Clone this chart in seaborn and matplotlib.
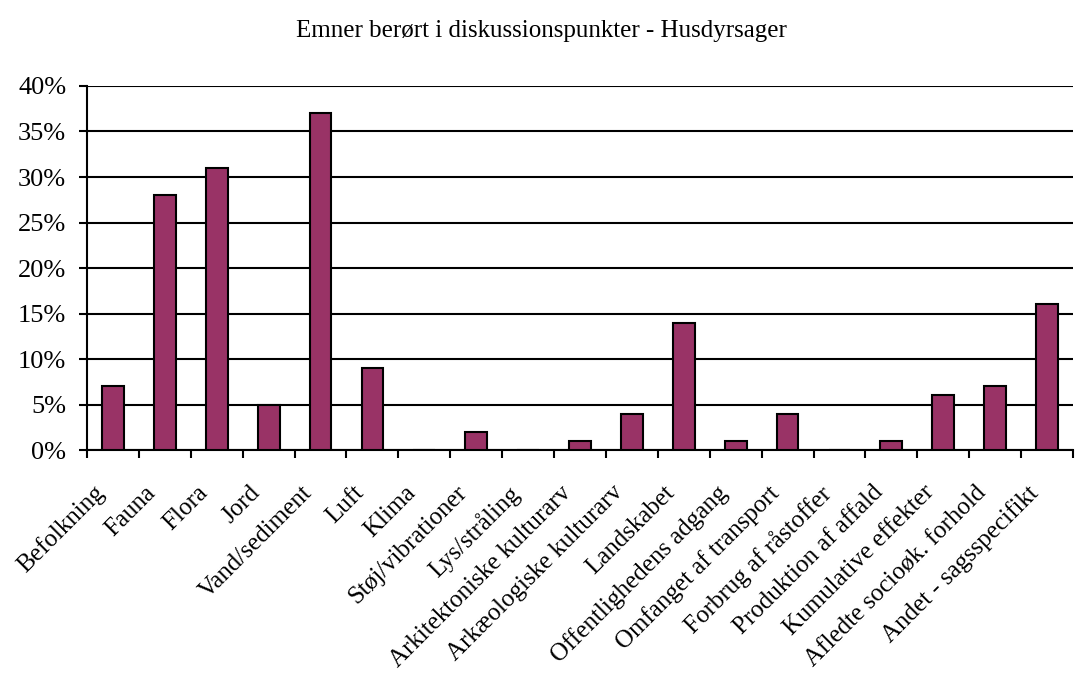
import numpy as np
import pandas as pd
import matplotlib
matplotlib.use("Agg")
import matplotlib.pyplot as plt
import matplotlib.transforms as mtransforms
import seaborn as sns
from matplotlib.ticker import PercentFormatter, FixedLocator

categories = ["Befolkning", "Fauna", "Flora", "Jord", "Vand/sediment", "Luft", "Klima",
              "Støj/vibrationer", "Lys/stråling", "Arkitektoniske kulturarv",
              "Arkæologiske kulturarv", "Landskabet", "Offentlighedens adgang",
              "Omfanget af transport", "Forbrug af råstoffer", "Produktion af affald",
              "Kumulative effekter", "Afledte socioøk. forhold", "Andet - sagsspecifikt"]
values = [7, 28, 31, 5, 37, 9, 0, 2, 0, 1, 4, 14, 1, 4, 0, 1, 6, 7, 16]
yticks = [0, 5, 10, 15, 20, 25, 30, 35, 40]
title = "Emner berørt i diskussionspunkter - Husdyrsager"

sns.set_style("white")
plt.rcParams['font.family'] = ['Liberation Serif', 'DejaVu Serif']
plt.rcParams['text.color'] = 'black'
plt.rcParams['xtick.color'] = 'black'
plt.rcParams['ytick.color'] = 'black'

df = pd.DataFrame({'emne': categories, 'andel': values})

fig = plt.figure(figsize=(10.83, 6.75), dpi=100)
ax = fig.add_axes([0.0803, 0.3333, 0.9105, 0.5393])

sns.barplot(data=df, x='emne', y='andel', color='#993366', width=0.42,
            edgecolor='black', linewidth=1.5, saturation=1, ax=ax, zorder=3)

ax.set_ylim(0, 40)
ax.set_xlim(-0.5, len(categories) - 0.5)
ax.set_yticks(yticks)
ax.yaxis.set_major_formatter(PercentFormatter(decimals=0))
ax.grid(axis='y', color='black', linewidth=1.5, zorder=0)
ax.set_axisbelow(True)

ax.xaxis.set_minor_locator(FixedLocator(np.arange(-0.5, len(categories), 1.0)))
ax.tick_params(axis='x', which='major', length=0, pad=14, labelsize=18)
ax.tick_params(axis='x', which='minor', length=6, width=1.5, direction='out', bottom=True)
ax.tick_params(axis='y', length=6, width=1.5, direction='out', left=True, labelsize=19, pad=9)

shift = mtransforms.ScaledTranslation(-0.2, -0.12, fig.dpi_scale_trans)
for lbl in ax.get_xticklabels():
    lbl.set_rotation(45)
    lbl.set_ha('right')
    lbl.set_rotation_mode('anchor')
    lbl.set_transform(lbl.get_transform() + shift)

for side in ['top', 'right']:
    ax.spines[side].set_visible(False)
for side in ['left', 'bottom']:
    ax.spines[side].set_color('black')
    ax.spines[side].set_linewidth(1.5)

ax.set_xlabel('')
ax.set_ylabel('')
fig.suptitle(title, y=0.97, fontsize=18)

fig.savefig('out.png', dpi=100)
